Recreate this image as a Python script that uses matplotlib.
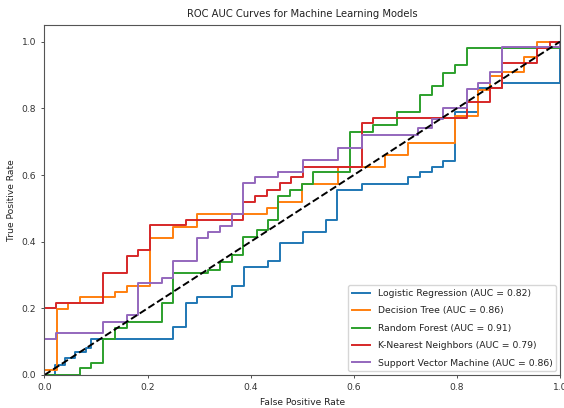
import matplotlib
matplotlib.use("Agg")
import matplotlib.pyplot as plt

# ROC curve step points: at each false positive rate the true positive rate jumps to the given value
models = ["Logistic Regression", "Decision Tree", "Random Forest",
          "K-Nearest Neighbors", "Support Vector Machine"]
auc_scores = [0.82, 0.86, 0.91, 0.79, 0.86]
colors = ["#1f77b4", "#ff7f0e", "#2ca02c", "#d62728", "#9467bd"]

lr_fpr = [0, 0.02, 0.04, 0.06, 0.08, 0.09, 0.249, 0.274, 0.295, 0.364, 0.387, 0.434,
          0.457, 0.501, 0.547, 0.568, 0.616, 0.705, 0.728, 0.752, 0.773, 0.796,
          0.841, 0.887, 1.0]
lr_tpr = [0, 0.03, 0.05, 0.07, 0.08, 0.108, 0.145, 0.215, 0.233, 0.267, 0.324, 0.342,
          0.396, 0.429, 0.465, 0.556, 0.574, 0.595, 0.61, 0.625, 0.643, 0.79,
          0.86, 0.877, 1.0]

dt_fpr = [0, 0, 0.024, 0.046, 0.069, 0.137, 0.161, 0.205, 0.25, 0.295, 0.431, 0.453,
          0.499, 0.57, 0.66, 0.705, 0.796, 0.841, 0.864, 0.887, 0.93, 0.955, 1.0]
dt_tpr = [0, 0.015, 0.197, 0.217, 0.233, 0.25, 0.267, 0.412, 0.445, 0.483, 0.5, 0.52,
          0.573, 0.625, 0.66, 0.696, 0.776, 0.856, 0.896, 0.91, 0.955, 1.0, 1.0]

rf_fpr = [0, 0.069, 0.091, 0.114, 0.137, 0.161, 0.227, 0.25, 0.318, 0.34, 0.363, 0.386,
          0.412, 0.434, 0.453, 0.476, 0.499, 0.521, 0.593, 0.638, 0.683, 0.728, 0.751,
          0.774, 0.796, 0.819, 1.0]
rf_tpr = [0, 0.02, 0.036, 0.107, 0.14, 0.16, 0.216, 0.305, 0.315, 0.34, 0.36, 0.415,
          0.435, 0.465, 0.537, 0.555, 0.573, 0.61, 0.73, 0.75, 0.789, 0.841, 0.868,
          0.907, 0.931, 0.982, 1.0]

knn_fpr = [0, 0, 0.022, 0.114, 0.160, 0.182, 0.205, 0.275, 0.386, 0.409, 0.431, 0.457,
           0.479, 0.502, 0.615, 0.638, 0.82, 0.864, 0.887, 0.955, 0.98, 1.0]
knn_tpr = [0, 0.201, 0.216, 0.306, 0.357, 0.375, 0.450, 0.465, 0.518, 0.537, 0.556,
           0.575, 0.595, 0.625, 0.755, 0.77, 0.82, 0.86, 0.936, 0.98, 1.0, 1.0]

svm_fpr = [0, 0, 0.022, 0.114, 0.161, 0.182, 0.227, 0.25, 0.295, 0.318, 0.34, 0.363,
           0.386, 0.409, 0.453, 0.502, 0.570, 0.615, 0.725, 0.751, 0.774, 0.819, 0.841,
           0.864, 0.887, 1.0]
svm_tpr = [0, 0.108, 0.127, 0.16, 0.18, 0.275, 0.29, 0.342, 0.412, 0.43, 0.447, 0.483,
           0.576, 0.593, 0.608, 0.644, 0.68, 0.719, 0.742, 0.769, 0.80, 0.858, 0.876,
           0.908, 0.984, 1.0]

curves = [(lr_fpr, lr_tpr), (dt_fpr, dt_tpr), (rf_fpr, rf_tpr),
          (knn_fpr, knn_tpr), (svm_fpr, svm_tpr)]

fig = plt.figure(figsize=(5.64, 4.08), dpi=100)
ax = fig.add_axes([0.0789, 0.0809, 0.914, 0.8578])

for name, auc, color, (fpr, tpr) in zip(models, auc_scores, colors, curves):
    ax.plot(fpr, tpr, drawstyle="steps-post", color=color, lw=1.4,
            label=f"{name} (AUC = {auc:.2f})")

ax.plot([0, 1], [0, 1], "k--", lw=1.4)

ax.set_xlim(0, 1.0)
ax.set_ylim(0, 1.05)
ax.set_xticks([0, 0.2, 0.4, 0.6, 0.8, 1.0])
ax.set_yticks([0, 0.2, 0.4, 0.6, 0.8, 1.0])
ax.tick_params(labelsize=6.6, length=2.5, width=0.6, colors="#333333")
for s in ax.spines.values():
    s.set_linewidth(0.8)
    s.set_color("#555555")
ax.set_xlabel("False Positive Rate", fontsize=6.6, color="#222222")
ax.set_ylabel("True Positive Rate", fontsize=6.6, color="#222222")
ax.set_title("ROC AUC Curves for Machine Learning Models", fontsize=7.2, color="#222222")
leg = ax.legend(loc="lower right", fontsize=6.7, borderaxespad=0.4, labelspacing=0.9)
for t in leg.get_texts():
    t.set_color("#222222")

fig.savefig("out.png", dpi=100)
